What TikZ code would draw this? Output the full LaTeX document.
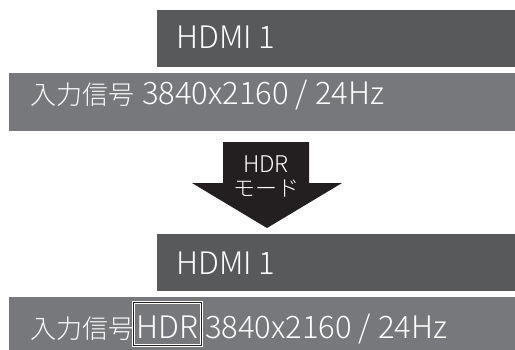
\documentclass[tikz,border=0pt]{standalone}
\usepackage{fontspec}
\setmainfont{Noto Sans CJK JP}[UprightFont={* Light}]
\usetikzlibrary{calc}
\definecolor{bardark}{HTML}{58595B}
\definecolor{barlight}{HTML}{77787B}
\definecolor{arrowblack}{HTML}{231F20}
\newcommand{\latinsize}{\fontsize{31}{31}\selectfont}
\newcommand{\kanjisize}{\fontsize{26}{26}\selectfont}

\begin{document}
\begin{tikzpicture}[x=1pt,y=-1pt,
	bartext/.style={anchor=base west,inner sep=0pt,text=white},
	arrowtext/.style={anchor=base,inner sep=0pt,text=white}]
	\useasboundingbox (0,0) rectangle (515,349);
	% before the HDR mode
	\fill[bardark] (157,10) rectangle (515,67);
	\fill[barlight] (9,73) rectangle (515,131);
	\node[bartext] (srcA) at (176,48) {\latinsize HDMI 1};
	\node[bartext] (sigA) at (30,104) {\kanjisize 入力信号};
	\node[bartext] (sigB) at (142,104) {\latinsize 3840x2160 / 24Hz};
	% arrow
	\fill[arrowblack] (223,142) -- (309,142) -- (309,183) -- (342,183)
		-- (267,228) -- (192,183) -- (223,183) -- cycle;
	\node[arrowtext] (modeA) at (266,172) {\fontsize{23}{23}\selectfont HDR};
	\node[arrowtext] (modeB) at (266,196) {\fontsize{22}{22}\selectfont モード};
	% after the HDR mode
	\begin{scope}[yshift=-224pt]
		\fill[bardark] (157,10) rectangle (515,67);
		\fill[barlight] (9,73) rectangle (515,131);
		\node[bartext] (srcB) at (176,50) {\latinsize HDMI 1};
		\node[bartext] (sigC) at (30,114) {\kanjisize 入力信号};
		\node[arrowtext] (hdrtag) at (167.5,114) {\latinsize HDR};
		\node[bartext] (sigD) at (205,114) {\latinsize 3840x2160 / 24Hz};
		\draw[white,line width=0.8pt,double=arrowblack,double distance=1pt]
			(133.5,78.5) rectangle (201.5,121.5);
	\end{scope}
\end{tikzpicture}
\end{document}
